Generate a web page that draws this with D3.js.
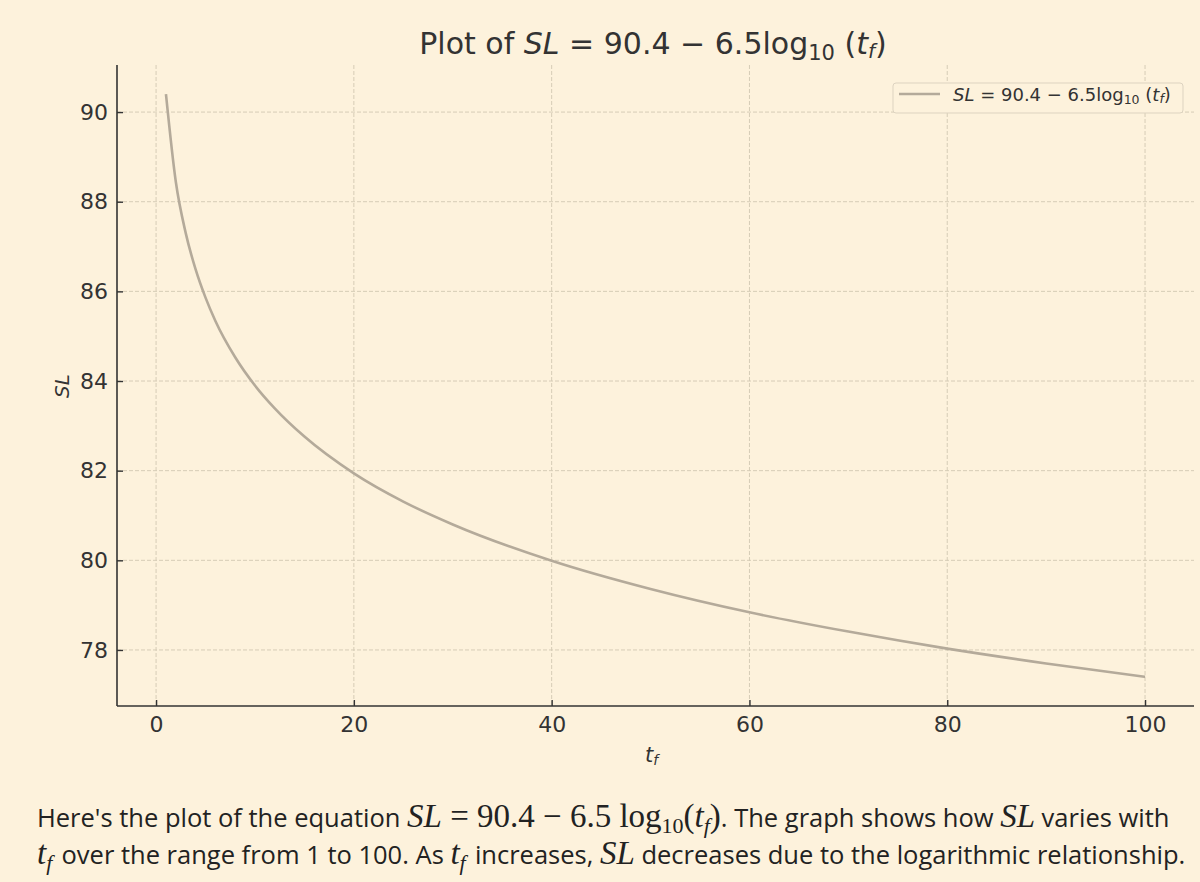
<!DOCTYPE html>
<html>
<head>
<meta charset="utf-8">
<script src="https://cdn.jsdelivr.net/npm/d3@7"></script>
<style>
  body { margin: 0; background: #fdf2dc; }
  #chart svg { display: block; }
</style>
</head>
<body>
<div id="chart"></div>
<script>
// values (t_f -> SL)
const tfValues = [1, 2, 3, 4, 5, 6, 8, 10, 12, 15, 20, 25, 30, 40, 50, 60, 70, 80, 90, 100];
const slValues = [90.4, 88.44, 87.30, 86.49, 85.86, 85.34, 84.53, 83.90, 83.39, 82.76, 81.94, 81.31, 80.80, 79.99, 79.36, 78.84, 78.41, 78.03, 77.70, 77.40];
const xTicks = [0, 20, 40, 60, 80, 100];
const yTicks = [78, 80, 82, 84, 86, 88, 90];

const data = tfValues.map((t, i) => ({ t: t, sl: slValues[i] }));

const W = 1200, H = 882;
const plot = { left: 117, right: 1194, top: 65, bottom: 706 };

const svg = d3.select('#chart').append('svg')
  .attr('width', W).attr('height', H)
  .style('font-family', 'DejaVu Sans, sans-serif');

svg.append('rect').attr('width', W).attr('height', H).attr('fill', '#fdf2dc');

const x = d3.scaleLinear().domain([-3.95, 104.95]).range([plot.left, plot.right]);
const y = d3.scaleLinear().domain([76.75, 91.05]).range([plot.bottom, plot.top]);

// grid
const grid = svg.append('g').attr('stroke', '#d6ccb6').attr('stroke-width', 1).attr('stroke-dasharray', '4,2');
grid.selectAll('.gx').data(xTicks).enter().append('line')
  .attr('x1', d => x(d)).attr('x2', d => x(d)).attr('y1', plot.top).attr('y2', plot.bottom);
grid.selectAll('.gy').data(yTicks).enter().append('line')
  .attr('x1', plot.left).attr('x2', plot.right).attr('y1', d => y(d)).attr('y2', d => y(d));

// axes, ticks pointing inward like the original
const xAxis = d3.axisBottom(x).tickValues(xTicks).tickSizeInner(-6).tickSizeOuter(0).tickPadding(10);
const yAxis = d3.axisLeft(y).tickValues(yTicks).tickSizeInner(-6).tickSizeOuter(0).tickPadding(9);

const gx = svg.append('g').attr('transform', `translate(0,${plot.bottom})`).call(xAxis);
const gy = svg.append('g').attr('transform', `translate(${plot.left},0)`).call(yAxis);
[gx, gy].forEach(g => {
  g.attr('font-family', null).attr('font-size', null);
  g.select('.domain').attr('stroke', '#333').attr('stroke-width', 1.6);
  g.selectAll('.tick line').attr('stroke', '#333').attr('stroke-width', 1.4);
  g.selectAll('.tick text').attr('fill', '#333').style('font-size', '22px').style('font-family', 'DejaVu Sans, sans-serif');
});
gx.select('.domain').attr('d', `M${plot.left},0H${plot.right}`);
gy.select('.domain').attr('d', `M0,${plot.top}V${plot.bottom}`);

// curve
const line = d3.line().x(d => x(d.t)).y(d => y(d.sl)).curve(d3.curveMonotoneX);
svg.append('path').datum(data)
  .attr('d', line)
  .attr('fill', 'none')
  .attr('stroke', '#b4aa9a')
  .attr('stroke-width', 2.6);

// title
const title = svg.append('text').attr('x', 653).attr('y', 54)
  .attr('text-anchor', 'middle').attr('fill', '#333').style('font-size', '30px');
title.append('tspan').text('Plot of ');
title.append('tspan').attr('font-style', 'italic').text('SL');
title.append('tspan').text(' = 90.4 \u2212 6.5log');
title.append('tspan').attr('dy', 6).style('font-size', '21px').text('10');
title.append('tspan').attr('dy', -6).text(' (');
title.append('tspan').attr('font-style', 'italic').text('t');
title.append('tspan').attr('dy', 4).attr('font-style', 'italic').style('font-size', '20px').text('f');
title.append('tspan').attr('dy', -4).text(')');

// axis labels
svg.append('text').attr('transform', 'translate(69,386) rotate(-90)')
  .attr('text-anchor', 'middle').attr('fill', '#333').style('font-size', '20px').attr('font-style', 'italic')
  .text('SL');
const xl = svg.append('text').attr('x', 645).attr('y', 762)
  .attr('fill', '#333').style('font-size', '21px').attr('font-style', 'italic');
xl.append('tspan').text('t');
xl.append('tspan').attr('dy', 3).style('font-size', '14px').text('f');

// legend
const legend = svg.append('g').attr('transform', 'translate(893,83)');
legend.append('rect').attr('width', 290).attr('height', 30).attr('rx', 3)
  .attr('fill', '#fdf2dc').attr('stroke', '#ddd3c0').attr('stroke-width', 1);
legend.append('line').attr('x1', 6).attr('x2', 47).attr('y1', 11).attr('y2', 11)
  .attr('stroke', '#b4aa9a').attr('stroke-width', 2.6);
const lt = legend.append('text').attr('x', 60).attr('y', 18).attr('fill', '#333').style('font-size', '18px');
lt.append('tspan').attr('font-style', 'italic').text('SL');
lt.append('tspan').text(' = 90.4 \u2212 6.5log');
lt.append('tspan').attr('dy', 3).style('font-size', '12.5px').text('10');
lt.append('tspan').attr('dy', -3).text(' (');
lt.append('tspan').attr('font-style', 'italic').text('t');
lt.append('tspan').attr('dy', 2).attr('font-style', 'italic').style('font-size', '12.5px').text('f');
lt.append('tspan').attr('dy', -2).text(')');

// caption below the chart
const sans = 'Open Sans, Noto Sans, sans-serif';
const serif = 'Liberation Serif, DejaVu Serif, serif';
const mathSize = '33px', subSize = '22px';
function mathT(t, sub) {
  t.append('tspan').attr('font-family', serif).attr('font-style', 'italic').style('font-size', mathSize).text('t');
  t.append('tspan').attr('font-family', serif).attr('font-style', 'italic').style('font-size', subSize).attr('dy', 6).text(sub);
  t.append('tspan').attr('dy', -6).text('\u200a');
}
function mathSL(t) {
  t.append('tspan').attr('font-family', serif).attr('font-style', 'italic').style('font-size', mathSize).text('SL');
}
const c1 = svg.append('text').attr('x', 37).attr('y', 827).attr('fill', '#222')
  .style('font-family', sans).style('font-size', '25.5px');
c1.append('tspan').text("Here's the plot of the equation ");
mathSL(c1);
c1.append('tspan').attr('font-family', serif).style('font-size', mathSize).text(' = 90.4 \u2212 6.5 log');
c1.append('tspan').attr('font-family', serif).style('font-size', subSize).attr('dy', 6).text('10');
c1.append('tspan').attr('font-family', serif).style('font-size', mathSize).attr('dy', -6).text('(');
c1.append('tspan').attr('font-family', serif).attr('font-style', 'italic').style('font-size', mathSize).text('t');
c1.append('tspan').attr('font-family', serif).attr('font-style', 'italic').style('font-size', subSize).attr('dy', 6).text('f');
c1.append('tspan').attr('font-family', serif).style('font-size', mathSize).attr('dy', -6).text(')');
c1.append('tspan').text('. The graph shows how ');
mathSL(c1);
c1.append('tspan').text(' varies with');

const c2 = svg.append('text').attr('x', 37).attr('y', 864).attr('fill', '#222')
  .style('font-family', sans).style('font-size', '25.5px');
mathT(c2, 'f');
c2.append('tspan').text(' over the range from 1 to 100. As ');
mathT(c2, 'f');
c2.append('tspan').text(' increases, ');
mathSL(c2);
c2.append('tspan').text(' decreases due to the logarithmic relationship.');
</script>
</body>
</html>
